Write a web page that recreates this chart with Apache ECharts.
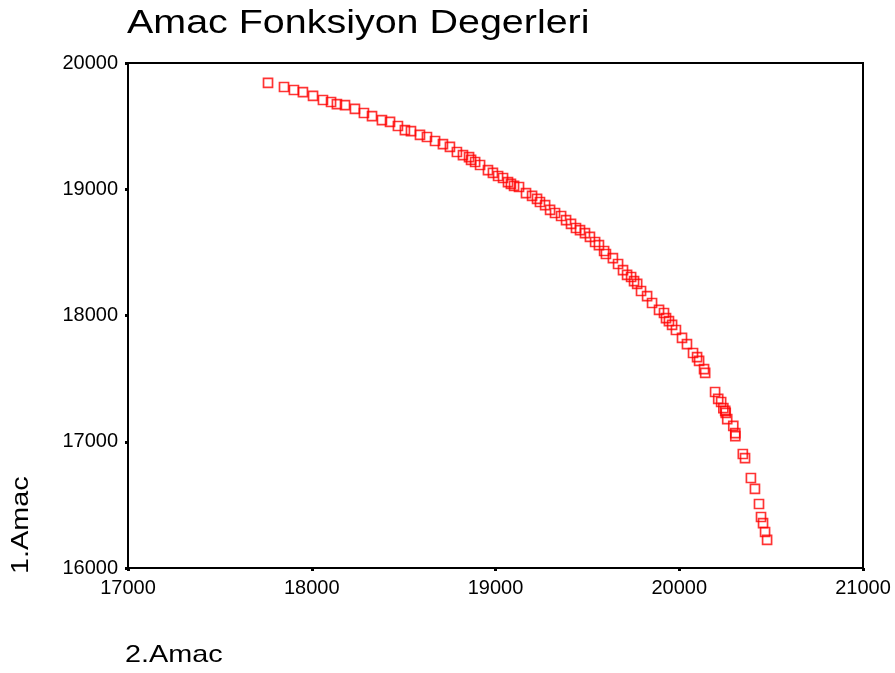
<!DOCTYPE html>
<html>
<head>
<meta charset="utf-8">
<title>Amac Fonksiyon Degerleri</title>
<script src="https://cdn.jsdelivr.net/npm/echarts@6/dist/echarts.min.js"></script>
<style>
  html, body { margin: 0; padding: 0; background: #fff; }
  #chart { width: 895px; height: 673px; }
</style>
</head>
<body>
<div id="chart"></div>
<script>
// Objective values of the solutions: 2nd objective (x) against 1st objective (y)
const amac2 = [
  17762, 17849, 17903, 17952, 18007, 18061, 18105, 18137, 18181, 18235,
  18284, 18328, 18382, 18426, 18469, 18507, 18540, 18589, 18627, 18671,
  18714, 18752, 18790, 18823, 18856, 18867, 18889, 18916, 18959, 18986,
  19014, 19041, 19068, 19084, 19101, 19128, 19166, 19199, 19226, 19242,
  19270, 19297, 19324, 19357, 19384, 19411, 19438, 19460, 19487, 19514,
  19542, 19563, 19591, 19601, 19639, 19667, 19694, 19716, 19738, 19754,
  19771, 19792, 19825, 19852, 19890, 19917, 19928, 19944, 19961, 19982,
  20015, 20042, 20075, 20097, 20108, 20135, 20141, 20195, 20212, 20228,
  20240, 20250, 20253, 20261, 20294, 20305, 20305, 20346, 20358, 20390,
  20412, 20434, 20445, 20456, 20467, 20478
];
const amac1 = [
  19842, 19810, 19786, 19770, 19739, 19707, 19691, 19675, 19667, 19636,
  19604, 19580, 19548, 19533, 19501, 19469, 19461, 19430, 19414, 19382,
  19358, 19335, 19295, 19271, 19255, 19232, 19216, 19192, 19152, 19129,
  19105, 19089, 19057, 19042, 19026, 19018, 18970, 18947, 18923, 18899,
  18875, 18836, 18812, 18788, 18756, 18725, 18693, 18677, 18653, 18622,
  18582, 18558, 18511, 18487, 18455, 18408, 18360, 18321, 18305, 18273,
  18250, 18194, 18154, 18099, 18044, 18020, 17980, 17956, 17925, 17885,
  17822, 17774, 17703, 17671, 17640, 17576, 17545, 17394, 17339, 17315,
  17267, 17244, 17228, 17180, 17125, 17069, 17045, 16903, 16871, 16713,
  16626, 16507, 16404, 16356, 16285, 16222
];
const xTicks = [17000, 18000, 19000, 20000, 21000];
const yTicks = [16000, 17000, 18000, 19000, 20000];

const points = amac2.map((v, i) => [v, amac1[i]]);

const chart = echarts.init(document.getElementById('chart'), null, { renderer: 'canvas' });
const font = 'Arial, "Liberation Sans", sans-serif';
const plain = v => String(v);

chart.setOption({
  backgroundColor: '#ffffff',
  animation: false,
  grid: {
    left: 128, top: 63, width: 735, height: 505,
    show: true, borderColor: '#000', borderWidth: 2, backgroundColor: 'transparent'
  },
  xAxis: {
    type: 'value',
    min: xTicks[0], max: xTicks[xTicks.length - 1], interval: 1000,
    axisLine: { show: true, onZero: false, lineStyle: { color: '#000', width: 2 } },
    axisTick: { show: true, length: 3, lineStyle: { color: '#000', width: 3 } },
    splitLine: { show: false },
    axisLabel: { color: '#000', fontFamily: font, fontSize: 20, margin: 10, formatter: plain }
  },
  yAxis: {
    type: 'value',
    min: yTicks[0], max: yTicks[yTicks.length - 1], interval: 1000,
    axisLine: { show: true, onZero: false, lineStyle: { color: '#000', width: 2 } },
    axisTick: { show: true, length: 3, lineStyle: { color: '#000', width: 3 } },
    splitLine: { show: false },
    axisLabel: { color: '#000', fontFamily: font, fontSize: 20, margin: 10, formatter: plain }
  },
  graphic: [
    {
      type: 'text', left: 127, top: 7, scaleX: 1.16,
      style: { text: 'Amac Fonksiyon Degerleri', fill: '#000', font: '34px ' + font }
    },
    {
      type: 'text', left: 125, top: 643, scaleX: 1.2,
      style: { text: '2.Amac', fill: '#000', font: '24px ' + font }
    },
    {
      type: 'text', x: 9, y: 574, rotation: Math.PI / 2, scaleX: 1.2,
      style: { text: '1.Amac', fill: '#000', font: '24px ' + font }
    }
  ],
  series: [{
    type: 'scatter',
    data: points,
    symbol: 'rect',
    symbolSize: 9,
    itemStyle: { color: 'rgba(255,255,255,0)', borderColor: '#ff0000', borderWidth: 1.7 }
  }]
});
</script>
</body>
</html>
